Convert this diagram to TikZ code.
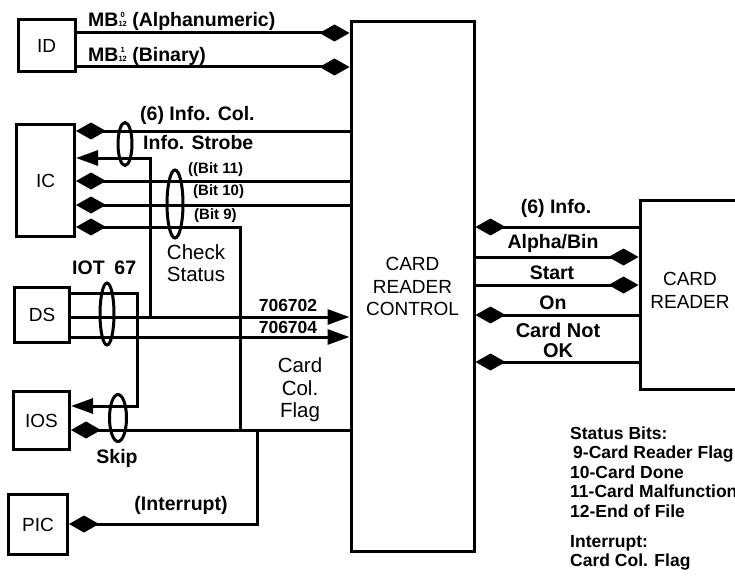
\documentclass[tikz,border=0pt]{standalone}
\usepackage{fontspec}
\setmainfont{Liberation Sans}
\usetikzlibrary{arrows.meta,calc}
\newcommand\mbstack[2]{{\fontsize{7.5}{7.5}\selectfont\shortstack{#1\\#2}}}
\tikzset{
  box/.style={draw, line width=3pt, inner sep=0pt, align=center, font=\fontsize{19}{22.5}\selectfont},
  wire/.style={line width=3pt},
  dstart/.style={{Diamond[length=30pt,width=17pt]}-},
  dend/.style={-{Diamond[length=30pt,width=17pt]}},
  tend/.style={-{Triangle[length=22pt,width=15pt]}},
  lbl/.style={font=\bfseries\fontsize{19.5}{21}\selectfont, inner sep=0pt, align=center},
  smlbl/.style={font=\bfseries\fontsize{15}{17}\selectfont, inner sep=0pt},
  numlbl/.style={font=\bfseries\fontsize{17.5}{19}\selectfont, inner sep=0pt},
  rlbl/.style={font=\fontsize{20.5}{22}\selectfont, inner sep=0pt, align=center},
  oval/.style={line width=3pt},
}
\begin{document}
\begin{tikzpicture}[x=1pt,y=-1pt]
\useasboundingbox (0,0) rectangle (735,575);
\clip (0,0) rectangle (735,575);
\fill[white] (0,0) rectangle (735,575);

% boxes
\node[box, minimum width=57pt, minimum height=52pt] (ID) at (46.5,46) {ID};
\node[box, minimum width=58pt, minimum height=112pt] (IC) at (45.5,180.5) {IC};
\node[box, minimum width=55pt, minimum height=55pt] (DS) at (42,315) {DS};
\node[box, minimum width=56pt, minimum height=58pt] (IOS) at (41.5,420.5) {IOS};
\node[box, minimum width=59pt, minimum height=60pt] (PIC) at (38,524.5) {PIC};
\node[box, minimum width=123pt, minimum height=529pt] (CRC) at (412.5,286.5) {CARD\\READER\\CONTROL};
\node[box, minimum width=200pt, minimum height=188.5pt] (CR) at (740,295) {};
\node[font=\fontsize{19}{23}\selectfont, align=center, inner sep=0pt] (CRt) at (690,290) {CARD\\READER};

% levels
\coordinate (a1) at (0,33);  \coordinate (a2) at (0,67);
\coordinate (b1) at (0,131); \coordinate (b2) at (0,158);
\coordinate (b3) at (0,181); \coordinate (b4) at (0,205);
\coordinate (b5) at (0,227);
\coordinate (c1) at (0,293); \coordinate (c2) at (0,317);
\coordinate (c3) at (0,337);
\coordinate (d1) at (0,406); \coordinate (d2) at (0,430);
\coordinate (e1) at (0,524);
\coordinate (f1) at (0,227); \coordinate (f2) at (0,257);
\coordinate (f3) at (0,285); \coordinate (f4) at (0,315);
\coordinate (f5) at (0,362);
% junctions / bends
\coordinate (jS) at (150,317);
\coordinate (jB) at (240,430);
\coordinate (jT) at (137,406);
\coordinate (jI) at (257,430);

% ID
\draw[wire,dend] (ID.east |- a1) -- (CRC.west |- a1);
\draw[wire,dend] (ID.east |- a2) -- (CRC.west |- a2);
% IC
\draw[wire,dstart] (IC.east |- b1) -- (CRC.west |- b1);
\draw[wire,tend] (jS) |- (IC.east |- b2);
\draw[wire,dstart] (IC.east |- b3) -- (CRC.west |- b3);
\draw[wire,dstart] (IC.east |- b4) -- (CRC.west |- b4);
\draw[wire,dstart] (IC.east |- b5) -| (jB);
% DS
\draw[wire,tend] (DS.east |- c1) -| (jT) -- (IOS.east |- d1);
\draw[wire,tend] (DS.east |- c2) -- (CRC.west |- c2);
\draw[wire,tend] (DS.east |- c3) -- (CRC.west |- c3);
% IOS / PIC
\draw[wire,dend] (CRC.west |- d2) -- (IOS.east |- d2);
\draw[wire,dend] (jI) |- (PIC.east |- e1);
% card reader
\draw[wire,dstart] (CRC.east |- f1) -- (CR.west |- f1);
\draw[wire,dend] (CRC.east |- f2) -- (CR.west |- f2);
\draw[wire,dend] (CRC.east |- f3) -- (CR.west |- f3);
\draw[wire,dstart] (CRC.east |- f4) -- (CR.west |- f4);
\draw[wire,dstart] (CRC.east |- f5) -- (CR.west |- f5);

% ovals
\draw[oval] (125,144) ellipse [x radius=7pt, y radius=21.5pt];
\draw[oval] (175,204) ellipse [x radius=8pt, y radius=34pt];
\draw[oval] (107,314) ellipse [x radius=7pt, y radius=31pt];
\draw[oval] (118,418) ellipse [x radius=8.5pt, y radius=23.5pt];

% labels
\node[lbl, anchor=west] (tMB0) at (88,21) {MB\mbstack{0}{12} (Alphanumeric)};
\node[lbl, anchor=west] (tMB1) at (88,56) {MB\mbstack{1}{12} (Binary)};
\node[lbl, anchor=west] (tInfo) at (140,115) {(6) Info. Col.};
\node[lbl, anchor=west] (tStr) at (143,143) {Info. Strobe};
\node[smlbl, anchor=west] (tB11) at (188,170) {((Bit 11)};
\node[smlbl, anchor=west] (tB10) at (193,192) {(Bit 10)};
\node[smlbl, anchor=west] (tB9) at (194,216) {(Bit 9)};
\node[rlbl] (tChk) at (196,263) {Check\\Status};
\node[lbl, anchor=west] (tIOT) at (72,268) {IOT\hspace{0.5em}67};
\node[numlbl] (t702) at (288,305) {706702};
\node[numlbl] (t704) at (288,327) {706704};
\node[rlbl, font=\fontsize{20.5}{22.5}\selectfont] (tCCF) at (300,390) {Card\\Col.\\Flag};
\node[lbl] (tSkip) at (117,458) {Skip};
\node[lbl] (tInt) at (181,505) {(Interrupt)};
\node[lbl] (tInfo6) at (556,208) {(6) Info.};
\node[lbl] (tAB) at (553,243) {Alpha/Bin};
\node[lbl] (tSt) at (552,273) {Start};
\node[lbl] (tOn) at (553,303) {On};
\node[lbl, font=\bfseries\fontsize{20}{20}\selectfont] (tCNO) at (558,340) {Card Not\\OK};

% notes
\node[font=\bfseries\fontsize{17.5}{19.5}\selectfont, align=left, anchor=north west, inner sep=0pt] (notes) at (570,426.5)
{Status Bits:\\
\hspace*{3pt}9-Card Reader Flag\\
10-Card Done\\
11-Card Malfunction\\
12-End of File\\[10.5pt]
Interrupt:\\
Card Col. Flag};
\end{tikzpicture}
\end{document}
